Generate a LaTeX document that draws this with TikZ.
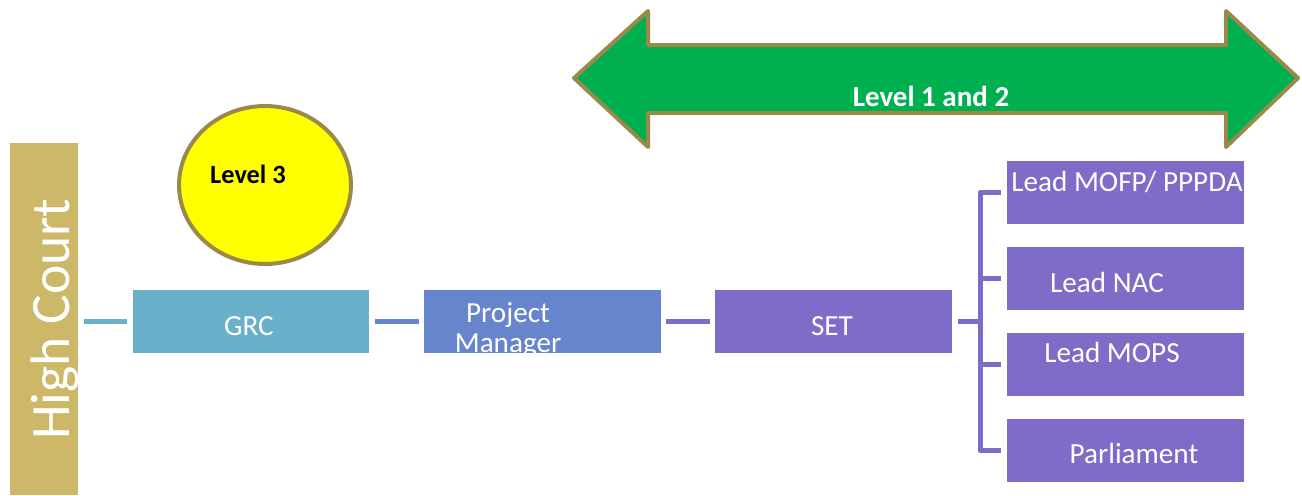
\documentclass[tikz,border=0pt]{standalone}
\usepackage{fontspec}
\setmainfont{Carlito}
\usetikzlibrary{shapes.geometric}
\definecolor{courtgold}{HTML}{CDB869}
\definecolor{grcblue}{HTML}{6BB0CB}
\definecolor{pmblue}{HTML}{6785CD}
\definecolor{setpurple}{HTML}{7E6CC8}
\definecolor{rimolive}{HTML}{9A8A4A}
\definecolor{arrowgreen}{HTML}{00AF50}
\definecolor{bubble}{HTML}{FFFF00}

\begin{document}
\begin{tikzpicture}[x=0.02cm,y=-0.02cm,
    box/.style={minimum width=4.74cm,minimum height=1.26cm,inner sep=0},
    wtxt/.style={text=white,font=\fontsize{16.6}{17}\selectfont,anchor=base},
    conn/.style={line width=0.1cm}]
  \useasboundingbox (0,0) rectangle (1302,495);
  % court bar on the left
  \node[fill=courtgold,minimum width=1.36cm,minimum height=7.04cm,inner sep=0] (hc) at (44,319) {};
  \node[wtxt,rotate=90,font=\fontsize{31.6}{32}\selectfont] (hct) at (70,319) {High Court};
  % level 3 bubble
  \node[ellipse,fill=bubble,draw=rimolive,line width=0.08cm,minimum width=3.44cm,
    minimum height=3.16cm] (lvl3) at (265,185) {};
  \node[anchor=base,font=\bfseries\fontsize{15}{15}\selectfont] (lvl3t) at (248,183) {Level 3};
  % level 1 and 2 double arrow
  \draw[fill=arrowgreen,draw=rimolive,line width=0.08cm,line join=round]
    (574,78) -- (648,11) -- (648,45) -- (1226,45) -- (1226,11) -- (1298,78)
    -- (1226,147) -- (1226,113) -- (648,113) -- (648,147) -- cycle;
  \node[wtxt,font=\bfseries\fontsize{16.5}{17}\selectfont] (lvl12) at (931,106) {Level 1 and 2};
  % main chain
  \node[box,fill=grcblue] (grc) at (251,321.5) {};
  \node[box,fill=pmblue] (pm) at (542.5,321.5) {};
  \node[box,fill=setpurple] (set) at (833.5,321.5) {};
  \node[wtxt] (grct) at (249,335) {GRC};
  \node[wtxt,align=center] (pmt) at (508,352) {Project\\Manager};
  \node[wtxt] (sett) at (832,335) {SET};
  \draw[conn,grcblue,shorten <=0.12cm,shorten >=0.1cm] (hc.east |- grc) -- (grc);
  \draw[conn,pmblue,shorten <=0.1cm,shorten >=0.1cm] (grc) -- (pm);
  \draw[conn,setpurple,shorten <=0.1cm,shorten >=0.1cm] (pm) -- (set);
  % bracket to the leads
  \coordinate (br) at (980,321.5);
  \draw[conn,setpurple,shorten <=0.12cm] (set) -- (br);
  \foreach \n/\y in {mofp/192.5,nac/278.5,mops/364.5,parl/450.5}{
    \node[box,fill=setpurple] (\n) at (1125.5,\y) {};
    \draw[conn,setpurple,shorten >=0.12cm] (br |- \n) -- (\n);}
  \draw[conn,setpurple,line cap=round] (br |- mofp) -- (br |- parl);
  \node[wtxt] (mofpt) at (1127,191) {Lead MOFP/ PPPDA};
  \node[wtxt] (nact) at (1107,292) {Lead NAC};
  \node[wtxt] (mopst) at (1112,362) {Lead MOPS};
  \node[wtxt] (parlt) at (1134,463) {Parliament};
\end{tikzpicture}
\end{document}
